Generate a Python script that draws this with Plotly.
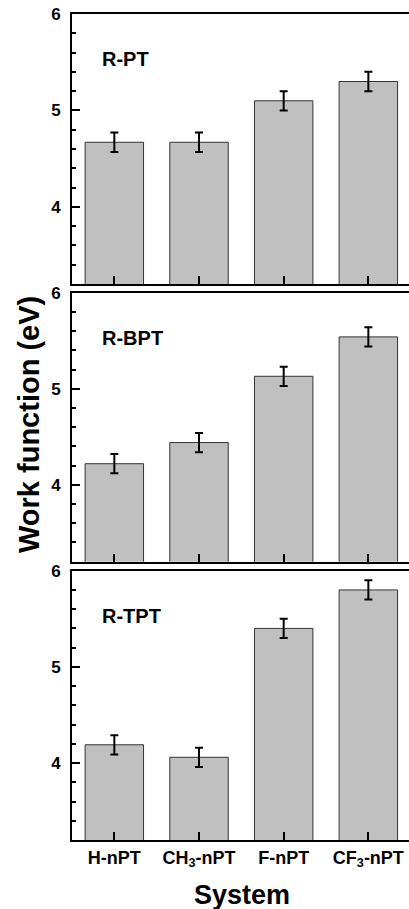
import plotly.graph_objects as go
from plotly.subplots import make_subplots

categories = ["H-nPT", "CH<sub>3</sub>-nPT", "F-nPT", "CF<sub>3</sub>-nPT"]
panel_labels = ["R-PT", "R-BPT", "R-TPT"]
r_pt = [4.67, 4.67, 5.10, 5.30]
r_bpt = [4.22, 4.44, 5.13, 5.54]
r_tpt = [4.19, 4.06, 5.40, 5.80]
err_pt = [0.1, 0.1, 0.1, 0.1]
err_bpt = [0.1, 0.1, 0.1, 0.1]
err_tpt = [0.1, 0.1, 0.1, 0.1]
ytick_vals = [4, 5, 6]
yminor_vals = [3.4, 3.6, 3.8, 4.2, 4.4, 4.6, 4.8, 5.2, 5.4, 5.6, 5.8]

series = [r_pt, r_bpt, r_tpt]
errors = [err_pt, err_bpt, err_tpt]

FONT = "Liberation Sans, Arial, sans-serif"
W, H = 409, 909
ML, MR, MT, MB = 72, 0, 14, 69
plot_h = H - MT - MB

fig = make_subplots(rows=3, cols=1, shared_xaxes=False)

panels_px = [(14, 284), (292.7, 561.7), (570.7, 840)]
xs = list(range(len(categories)))

for i, (vals, errs) in enumerate(zip(series, errors)):
    fig.add_trace(go.Bar(
        x=xs, y=vals,
        marker=dict(color="#c0c0c0", line=dict(color="#333333", width=1)),
        error_y=dict(type="data", array=errs, visible=True, color="black", thickness=2, width=4),
        showlegend=False,
        hoverinfo="skip",
    ), row=i + 1, col=1)

for i in range(3):
    top, bot = panels_px[i]
    d0 = (H - MB - bot) / plot_h
    d1 = (H - MB - top) / plot_h
    xa = "xaxis" if i == 0 else f"xaxis{i+1}"
    ya = "yaxis" if i == 0 else f"yaxis{i+1}"
    fig.layout[ya].update(
        domain=[d0, d1], range=[3.2, 6], tickvals=ytick_vals, ticktext=[str(v) for v in ytick_vals],
        ticks="inside", ticklen=8, tickwidth=2, tickcolor="black",
        showline=True, linewidth=2, linecolor="black", mirror=False,
        showgrid=False, zeroline=False,
        minor=dict(tickvals=yminor_vals, ticks="inside", ticklen=4, tickwidth=1.5, tickcolor="black"),
        tickfont=dict(family=FONT, size=17, color="black", weight="bold"),
        ticklabelstandoff=6,
    )
    xkw = dict(
        range=[-0.5, 3.48], tickvals=xs,
        ticks="inside", ticklen=8, tickwidth=2, tickcolor="black",
        showline=True, linewidth=2, linecolor="black", mirror=True,
        showgrid=False, zeroline=False,
        tickfont=dict(family=FONT, size=18, color="black", weight="bold"),
    )
    if i == 2:
        xkw["ticktext"] = categories
        xkw["showticklabels"] = True
    else:
        xkw["showticklabels"] = False
    fig.layout[xa].update(**xkw)
    fig.add_annotation(
        text=panel_labels[i], xref="x domain" if i == 0 else f"x{i+1} domain",
        yref="y domain" if i == 0 else f"y{i+1} domain",
        x=(100 - ML) / (W - ML), y=1 - 45 / (bot - top), xanchor="left", yanchor="middle",
        showarrow=False, font=dict(family=FONT, size=20, color="black", weight="bold"),
    )

fig.add_annotation(
    text="Work function (eV)", xref="paper", yref="paper",
    x=(29 - ML) / (W - ML), y=(H - MB - 425) / plot_h, xanchor="center", yanchor="middle",
    textangle=-90, showarrow=False,
    font=dict(family=FONT, size=29, color="black", weight="bold"),
)
fig.add_annotation(
    text="System", xref="paper", yref="paper",
    x=(242 - ML) / (W - ML), y=-(895 - (H - MB)) / plot_h, xanchor="center", yanchor="middle",
    showarrow=False,
    font=dict(family=FONT, size=27, color="black", weight="bold"),
)

fig.update_layout(
    width=W, height=H,
    margin=dict(l=ML, r=MR, t=MT, b=MB, pad=0),
    paper_bgcolor="white", plot_bgcolor="white",
    bargap=0.31,
    font=dict(family=FONT, color="black"),
)

fig.write_html("out.html")
